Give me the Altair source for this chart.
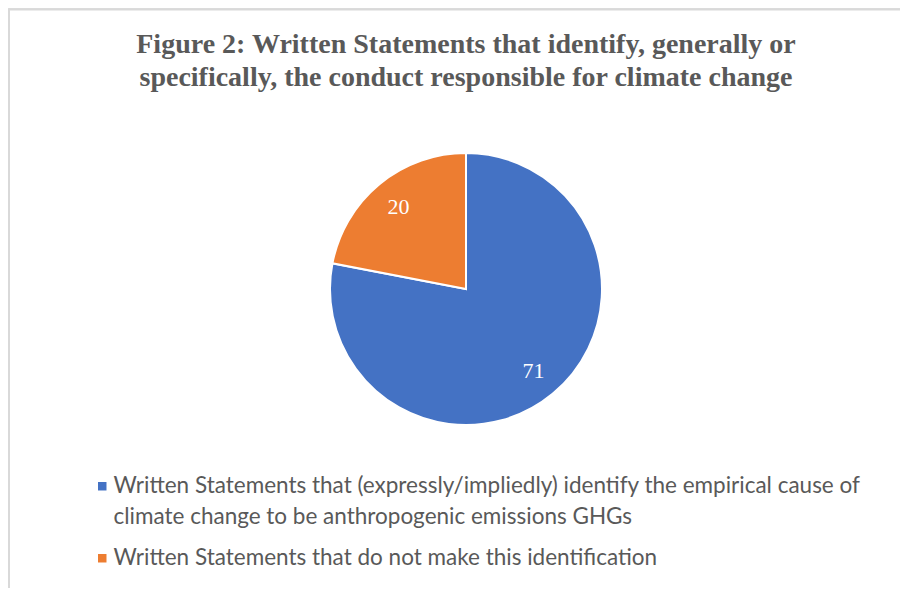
import altair as alt
import pandas as pd

# ---- data ----
title_lines = [
    "Figure 2: Written Statements that identify, generally or",
    "specifically, the conduct responsible for climate change",
]
categories = [
    "Written Statements that (expressly/impliedly) identify the empirical cause of climate change to be anthropogenic emissions GHGs",
    "Written Statements that do not make this identification",
]
legend_lines = [
    ["Written Statements that (expressly/impliedly) identify the empirical cause of",
     "climate change to be anthropogenic emissions GHGs"],
    ["Written Statements that do not make this identification"],
]
counts = [71, 20]
colors = ["#4472C4", "#ED7D31"]

df = pd.DataFrame({"category": categories, "count": counts, "idx": list(range(len(counts)))})

W, H = 892, 580
CX, CY = 458, 281
R = 136

label_expr = "datum.label == '%s' ? %s : %s" % (
    categories[0].replace("'", "\\'"),
    "[" + ",".join("'" + s + "'" for s in legend_lines[0]) + "]",
    "datum.label",
)

theta = alt.Theta("count:Q", stack=True)
order = alt.Order("idx:Q", sort="ascending")

arc = alt.Chart(df).mark_arc(outerRadius=R, stroke="white", strokeWidth=2).encode(
    theta=theta,
    order=order,
    color=alt.Color(
        "category:N",
        scale=alt.Scale(domain=categories, range=colors),
        legend=alt.Legend(
            title=None,
            orient="none",
            legendX=83,
            legendY=467,
            symbolType="square",
            symbolSize=72,
            symbolStrokeWidth=0,
            labelFont="Lato",
            labelFontSize=22.5,
            labelColor="#595959",
            labelLimit=900,
            labelOffset=0,
            rowPadding=18,
            labelExpr=label_expr,
        ),
    ),
    x=alt.value(CX),
    y=alt.value(CY),
)

labels = alt.Chart(df).mark_text(
    radius=106, font="Liberation Serif", fontSize=22
).encode(
    theta=theta,
    order=order,
    text="count:Q",
    color=alt.value("white"),
    x=alt.value(CX),
    y=alt.value(CY),
)

one = pd.DataFrame({"k": [0]})
title = alt.Chart(one).mark_text(
    text=title_lines,
    font="Liberation Serif",
    fontSize=28,
    fontWeight="bold",
    color="#595959",
    lineHeight=33,
    align="center",
    baseline="alphabetic",
).encode(x=alt.value(CX), y=alt.value(45))

border_top = alt.Chart(one).mark_rule(color="#D9D9D9", strokeWidth=2).encode(
    x=alt.value(0), x2=alt.value(W), y=alt.value(1.5)
)
border_left = alt.Chart(one).mark_rule(color="#D9D9D9", strokeWidth=2).encode(
    x=alt.value(1), y=alt.value(0.5), y2=alt.value(H)
)

chart = (
    alt.layer(border_top, border_left, title, arc, labels)
    .properties(width=W, height=H, padding=0, autosize=alt.AutoSizeParams(type="none"))
    .configure_view(stroke=None)
    .configure(background="white", style={"guide-label": {"lineHeight": 31}})
)

chart.save("out.html", embed_options={"renderer": "svg", "actions": False})
